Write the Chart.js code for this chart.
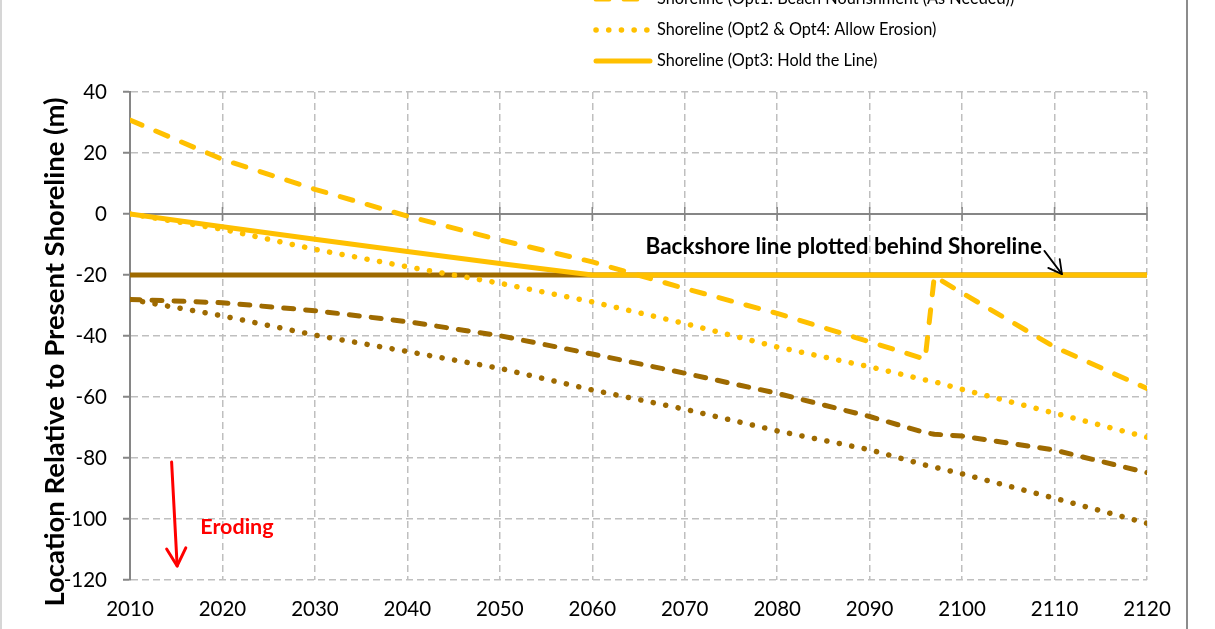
<!DOCTYPE html>
<html><head><meta charset="utf-8">
<script src="https://cdn.jsdelivr.net/npm/chart.js@4"></script>
<style>html,body{margin:0;padding:0;background:#fff;overflow:hidden}#wrap{position:relative;width:1215px;height:629px}</style>
</head><body><div id="wrap"><canvas id="c" width="1215" height="629"></canvas></div>
<script>
// ---- data ----
const years      = [2010, 2020, 2030, 2040, 2050, 2060, 2070, 2080, 2090, 2096, 2097, 2100, 2110, 2120];
const shoreOpt1  = [30.8, 17.9, 8.1, -0.7, -8.5, -15.7, -24.4, -32.6, -41.9, -47.6, -20.4, -25.9, -43.6, -57.2];
const shoreOpt24 = [0, -5.0, -11.6, -17.3, -22.7, -28.8, -35.9, -43.6, -50.1, -54.4, -55.0, -57.5, -65.3, -73.2];
const shoreOpt3  = [0, -4.2, -8.3, -12.3, -16.2, -20, -20, -20, -20, -20, -20, -20, -20, -20];
const backOpt1   = [-28, -29.1, -31.7, -35.3, -39.9, -45.9, -52.2, -58.8, -66.4, -71.7, -72.2, -72.8, -77.4, -84.8];
const backOpt24  = [-28, -33.4, -39.7, -45.1, -50.6, -57.7, -64.0, -71.1, -77.3, -82.3, -83.0, -85.2, -93.2, -101.4];
const backOpt3   = [-20, -20, -20, -20, -20, -20, -20, -20, -20, -20, -20, -20, -20, -20];
const seriesLabels = [
  'Shoreline (Opt1: Beach Nourishment (As Needed))',
  'Shoreline (Opt2 & Opt4: Allow Erosion)',
  'Shoreline (Opt3: Hold the Line)',
  'Backshore (Opt1: Beach Nourishment (As Needed))',
  'Backshore (Opt2 & Opt4: Allow Erosion)',
  'Backshore (Opt3: Hold the Line)'
];
const xTicks = [2010, 2020, 2030, 2040, 2050, 2060, 2070, 2080, 2090, 2100, 2110, 2120];
const yTicks = [-120, -100, -80, -60, -40, -20, 0, 20, 40];
const yTitle = 'Location Relative to Present Shoreline (m)';
const noteText = 'Backshore line plotted behind Shoreline';
const erodeText = 'Eroding';

// ---- styles ----
const YEL = '#FFC000', BRN = '#9E6A00';
const FONT = 'Lato';
const pts = v => years.map((x, i) => ({x, y: v[i]}));
const styles = [
  {color: YEL, dash: [13, 15], width: 5},
  {color: YEL, dash: [0.1, 12.6], width: 5.5},
  {color: YEL, dash: [], width: 5},
  {color: BRN, dash: [10, 12], width: 5},
  {color: BRN, dash: [0.1, 12.6], width: 5.5},
  {color: BRN, dash: [], width: 5}
];
const seriesVals = [shoreOpt1, shoreOpt24, shoreOpt3, backOpt1, backOpt24, backOpt3];
const datasets = seriesVals.map((v, i) => ({
  label: seriesLabels[i], data: pts(v),
  borderColor: styles[i].color, borderWidth: styles[i].width, borderDash: styles[i].dash,
  borderCapStyle: 'round', borderJoinStyle: 'round',
  pointRadius: 0, tension: 0, fill: false
}));

const decor = {
  id: 'decor',
  beforeDatasetsDraw(chart) {
    const {ctx, chartArea: a, scales: {x, y}} = chart;
    const y0 = y.getPixelForValue(0);
    ctx.save();
    ctx.strokeStyle = '#868686'; ctx.lineWidth = 2;
    ctx.beginPath(); ctx.moveTo(a.left, y0); ctx.lineTo(a.right, y0); ctx.stroke();
    ctx.lineWidth = 1.5;
    xTicks.forEach(v => { const px = x.getPixelForValue(v); ctx.beginPath(); ctx.moveTo(px, y0 - 7); ctx.lineTo(px, y0 + 7); ctx.stroke(); });
    ctx.restore();
  },
  afterDraw(chart) {
    const {ctx, scales: {x, y}} = chart;
    ctx.save();
    // frame lines
    ctx.strokeStyle = '#C8C8C8'; ctx.lineWidth = 1.5;
    ctx.beginPath(); ctx.moveTo(1, 0); ctx.lineTo(1, 629); ctx.stroke();
    ctx.strokeStyle = '#8C8C8C'; ctx.lineWidth = 2;
    ctx.beginPath(); ctx.moveTo(1187, 0); ctx.lineTo(1187, 629); ctx.stroke();
    // y title
    ctx.save();
    ctx.translate(55, 352); ctx.rotate(-Math.PI / 2);
    ctx.fillStyle = '#000'; ctx.font = 'bold 27.5px ' + FONT;
    ctx.textAlign = 'center'; ctx.textBaseline = 'middle';
    ctx.fillText(yTitle, 0, 0);
    ctx.restore();
    // legend (shoreline entries)
    const rows = [-1, 30, 61];
    for (let i = 0; i < 3; i++) {
      const s = styles[i];
      ctx.strokeStyle = s.color; ctx.lineWidth = s.width; ctx.setLineDash(s.dash); ctx.lineCap = 'round';
      ctx.beginPath(); ctx.moveTo(596, rows[i]); ctx.lineTo(650, rows[i]); ctx.stroke();
      ctx.setLineDash([]);
      ctx.fillStyle = '#000'; ctx.font = '16.3px ' + FONT; ctx.textAlign = 'left'; ctx.textBaseline = 'middle';
      ctx.fillText(seriesLabels[i], 657, rows[i]);
    }
    // note annotation
    ctx.fillStyle = '#000'; ctx.font = 'bold 22.5px ' + FONT; ctx.textAlign = 'center'; ctx.textBaseline = 'middle';
    ctx.fillText(noteText, x.getPixelForValue(2087.2), y.getPixelForValue(-10.8));
    const arrow = (x1, y1, x2, y2, head, color, w) => {
      ctx.strokeStyle = color; ctx.lineWidth = w; ctx.lineCap = 'round'; ctx.lineJoin = 'round';
      ctx.beginPath(); ctx.moveTo(x1, y1); ctx.lineTo(x2, y2); ctx.stroke();
      const ang = Math.atan2(y2 - y1, x2 - x1);
      ctx.beginPath();
      ctx.moveTo(x2 - head * Math.cos(ang - 0.5), y2 - head * Math.sin(ang - 0.5));
      ctx.lineTo(x2, y2);
      ctx.lineTo(x2 - head * Math.cos(ang + 0.5), y2 - head * Math.sin(ang + 0.5));
      ctx.stroke();
    };
    arrow(x.getPixelForValue(2108.9), y.getPixelForValue(-12.1), x.getPixelForValue(2110.8), y.getPixelForValue(-19.7), 15, '#000', 1.8);
    // eroding arrow
    arrow(x.getPixelForValue(2014.5), y.getPixelForValue(-81.3), x.getPixelForValue(2015.1), y.getPixelForValue(-115.4), 20, '#FF0000', 3);
    ctx.fillStyle = '#FF0000'; ctx.font = 'bold 21.5px ' + FONT; ctx.textAlign = 'left'; ctx.textBaseline = 'middle';
    ctx.fillText(erodeText, x.getPixelForValue(2017.6), y.getPixelForValue(-102.6));
    ctx.restore();
  }
};

new Chart(document.getElementById('c'), {
  type: 'line',
  data: {datasets},
  plugins: [decor],
  options: {
    responsive: false, animation: false,
    layout: {padding: {top: 92, right: 68, bottom: 0, left: 0}},
    plugins: {legend: {display: false}, tooltip: {enabled: false}},
    scales: {
      x: {
        type: 'linear', min: 2010, max: 2120,
        afterBuildTicks: s => { s.ticks = xTicks.map(v => ({value: v})); },
        afterFit: s => { s.height = 49; },
        ticks: {callback: v => String(v), color: '#000', font: {family: FONT, size: 20.5}, padding: 17, maxRotation: 0, autoSkip: false},
        grid: {color: '#BFBFBF', lineWidth: 1.5, drawTicks: false},
        border: {display: false, dash: [7, 4]}
      },
      y: {
        type: 'linear', min: -120, max: 40,
        afterBuildTicks: s => { s.ticks = yTicks.map(v => ({value: v})); },
        afterFit: s => { s.width = 130; },
        ticks: {color: '#000', font: {family: FONT, size: 20.5}, padding: 16},
        grid: {color: '#BFBFBF', lineWidth: 1.5, tickLength: 7, tickColor: '#868686', tickWidth: 2},
        border: {display: true, color: '#868686', width: 2, dash: [7, 4]}
      }
    }
  }
});
</script></body></html>
